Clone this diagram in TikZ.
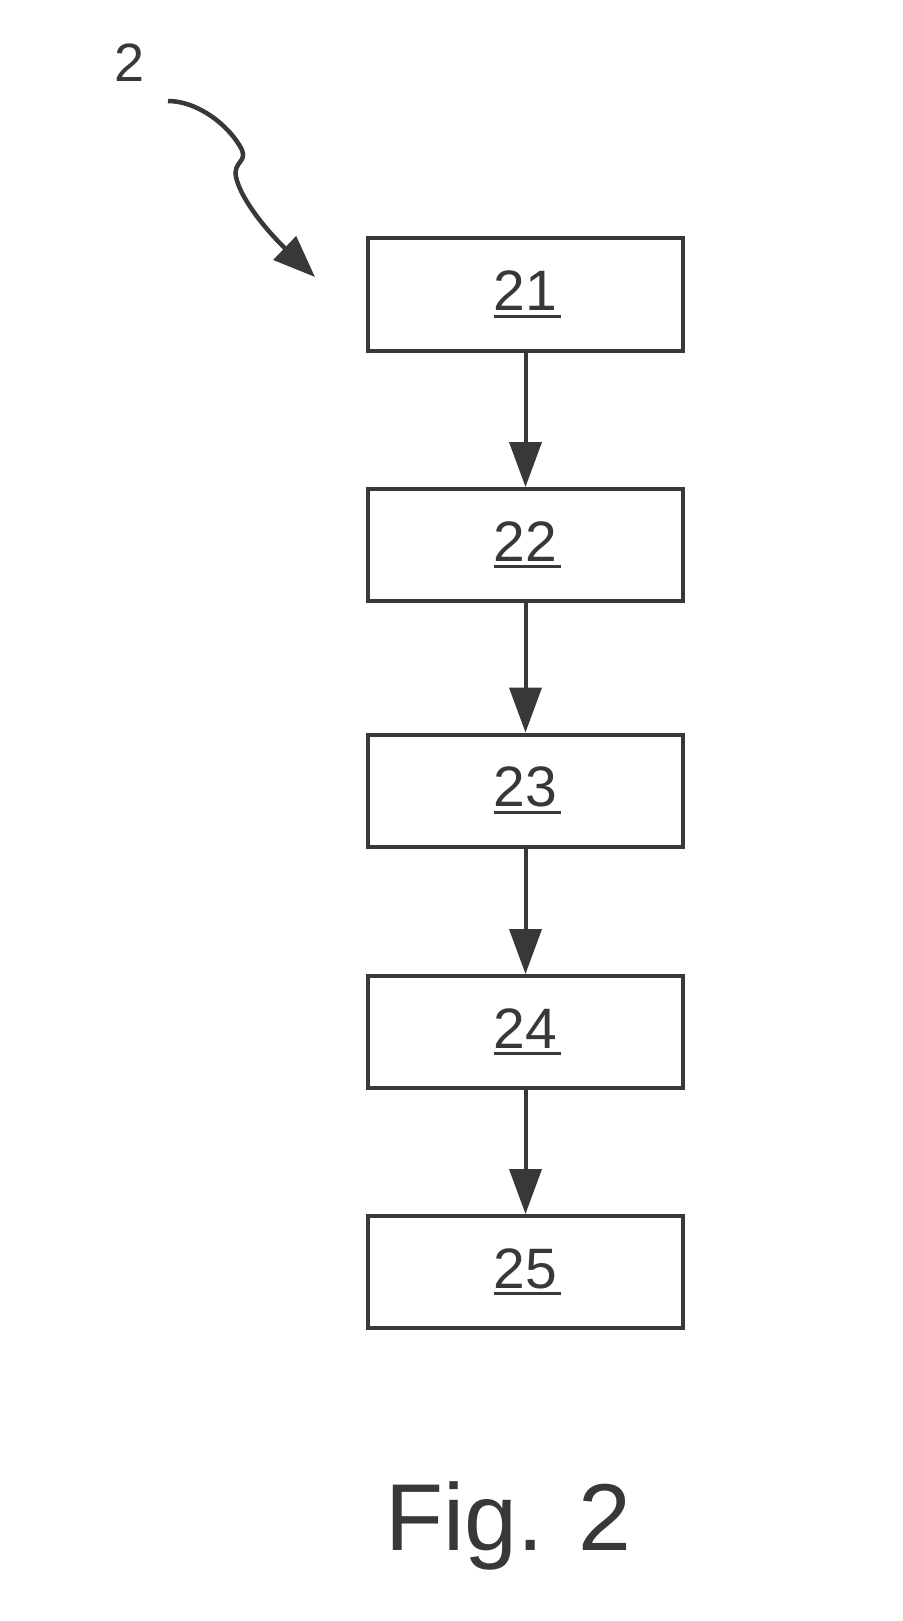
\documentclass[tikz,border=0pt]{standalone}
\usepackage{fontspec}
\setmainfont{Liberation Sans}
\usetikzlibrary{arrows.meta}
\definecolor{ink}{gray}{0.22}
\newcommand{\refnum}[1]{\setbox0\hbox{#1}\rlap{\rule[-7pt]{\dimexpr\wd0+4pt\relax}{3pt}}\box0}
\tikzset{
    stepbox/.style={draw=ink,line width=4pt,minimum width=315pt,minimum height=112pt,inner sep=0pt,text=ink,font=\fontsize{57}{57}\selectfont},
    flow/.style={draw=ink,line width=4pt,-{Triangle[length=45pt,width=32pt]}}
}
\begin{document}
\begin{tikzpicture}[x=1pt,y=-1pt]
        \useasboundingbox (0,0) rectangle (902,1621);
        \def\midX{525.5}
        \foreach \i\y in{21/294.5,22/545,23/790.5,24/1032,25/1272} {
                \node [stepbox] (box\i) at (\midX,\y) {\refnum{\i}};
            }
        \foreach \i [evaluate=\i as \j using int(\i+1)] in{21,22,23,24} {
                \draw [flow] (box\i) -- (box\j);
            }

        % reference sign and its wavy arrow
        \node [text=ink,inner sep=0pt,font=\fontsize{54}{54}\selectfont] (ref) at (129.5,62.5) {2};
        \coordinate (refTip) at (315,277);
        \draw [draw=ink,line width=4.5pt,-{Triangle[length=42pt,width=32pt]}]
            (168,101) .. controls (198,101) and (230,126) .. (242,150)
            .. controls (247,162) and (233,162) .. (236,177)
            .. controls (241,200) and (268,232) .. (refTip);

        \node [text=ink,inner sep=0pt,anchor=base,font=\fontsize{95}{95}\selectfont] (caption) at (508.5,1550) {Fig. 2};
    \end{tikzpicture}
\end{document}
